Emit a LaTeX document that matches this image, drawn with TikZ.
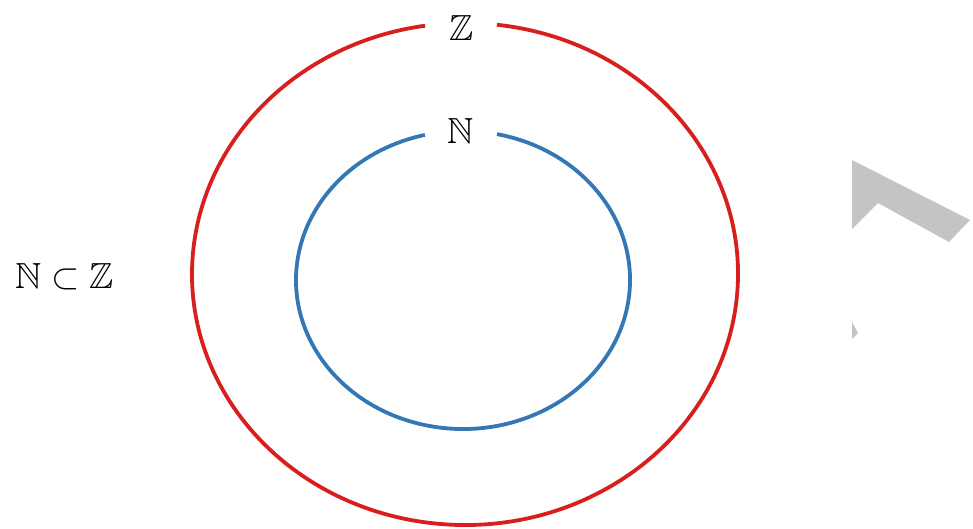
\documentclass[tikz,border=0pt]{standalone}
\usepackage{amssymb}
\usepackage{graphicx}
\definecolor{setred}{HTML}{D91E1E}
\definecolor{setblue}{HTML}{3477B5}
\definecolor{wmgray}{HTML}{C4C4C4}
\newcommand{\bigsym}[1]{\scalebox{2.1}{\LARGE$#1$}}
\begin{document}
\begin{tikzpicture}[x=1pt,y=-1pt,
  setline/.style={line width=3.8pt},
  setlabel/.style={inner sep=0pt}]
\useasboundingbox (0,0) rectangle (973,528);
% outer set Z
\draw[setline,setred] (465,274) ++(276.7:273 and 251) arc[start angle=276.7,end angle=621.6,x radius=273,y radius=251];
\node[setlabel] (Z) at (462,28) {\bigsym{\mathbb{Z}}};
% inner set N
\draw[setline,setblue] (463,280) ++(281.75:167 and 149) arc[start angle=281.75,end angle=616.8,x radius=167,y radius=149];
\node[setlabel] (N) at (461,131) {\bigsym{\mathbb{N}}};
% relation
\node[setlabel,anchor=west] (rel) at (15,277) {\bigsym{\mathbb{N}\subset\mathbb{Z}}};
% gray shapes at right
\fill[wmgray] (852,160) -- (970,220) -- (949,242) -- (878,203) -- (852,229) -- cycle;
\fill[wmgray] (852,322) -- (858,333) -- (852,339) -- cycle;
\end{tikzpicture}
\end{document}
